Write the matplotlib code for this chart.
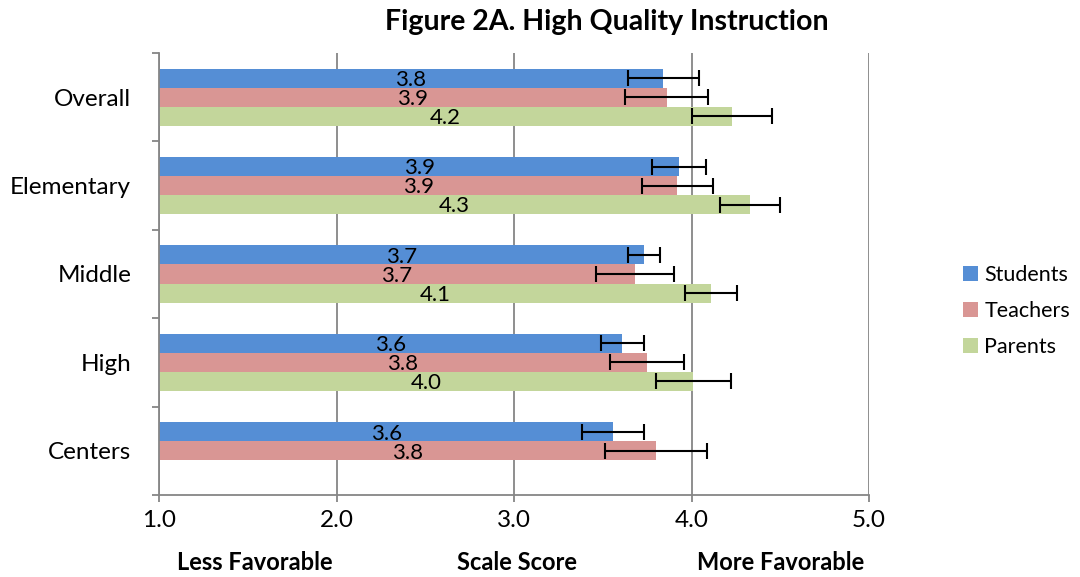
import numpy as np
import matplotlib.pyplot as plt

categories = ["Overall", "Elementary", "Middle", "High", "Centers"]
series = ["Students", "Teachers", "Parents"]
students = [3.84, 3.93, 3.73, 3.61, 3.56]
teachers = [3.86, 3.92, 3.68, 3.75, 3.80]
parents = [4.23, 4.33, 4.11, 4.01, np.nan]
students_err = [0.20, 0.15, 0.09, 0.12, 0.175]
teachers_err = [0.235, 0.20, 0.22, 0.21, 0.285]
parents_err = [0.225, 0.17, 0.145, 0.21, np.nan]
xticks = [1.0, 2.0, 3.0, 4.0, 5.0]

colors = ["#558ED5", "#D99694", "#C3D69B"]
grid_col = "#868686"

plt.rcParams['font.family'] = ['Lato', 'DejaVu Sans']

fig = plt.figure(figsize=(10.8, 5.77), dpi=100)
ax = fig.add_axes([159 / 1080, 82 / 577, 710 / 1080, 442 / 577])

y = np.arange(len(categories))
h = 0.215
vals = [students, teachers, parents]
errs = [students_err, teachers_err, parents_err]
for i, (name, v, e, c) in enumerate(zip(series, vals, errs, colors)):
    pos = y + (i - 1) * h
    v = np.array(v, dtype=float)
    mask = ~np.isnan(v)
    ax.barh(pos[mask], v[mask] - 1.0, left=1.0, height=h, color=c, label=name, zorder=2)
    ax.errorbar(v[mask], pos[mask], xerr=np.array(e)[mask], fmt='none', ecolor='black',
                elinewidth=1.5, capsize=6, capthick=1.5, zorder=3)
    # value labels sit in the middle of each bar
    for p, val in zip(pos[mask], v[mask]):
        ax.text((1.0 + val) / 2, p + 0.02, f"{val:.1f}", ha='center', va='center',
                fontsize=16, color='black', zorder=4)

ax.set_xlim(1.0, 5.0)
ax.set_ylim(4.5, -0.5)
ax.set_xticks(xticks)
ax.set_xticklabels([f"{t:.1f}" for t in xticks], fontsize=17.5)
ax.set_yticks(y)
ax.set_yticklabels(categories, fontsize=17.5)
ax.set_yticks(np.arange(-0.5, 5.0, 1.0), minor=True)
ax.tick_params(axis='y', which='major', length=0, pad=20)
ax.tick_params(axis='y', which='minor', length=5, color=grid_col, width=1.3)
ax.tick_params(axis='x', length=5, color=grid_col, width=1.3, pad=6)

ax.xaxis.grid(True, color=grid_col, linewidth=1.3, zorder=0)
ax.set_axisbelow(True)
for s in ['top', 'right']:
    ax.spines[s].set_visible(False)
for s in ['left', 'bottom']:
    ax.spines[s].set_color(grid_col)
    ax.spines[s].set_linewidth(1.3)

fig.text(607 / 1080, 1 - 22 / 577, "Figure 2A. High Quality Instruction", ha='center', va='center',
         fontsize=20.5, fontweight='bold')
for xp, txt in [(255, "Less Favorable"), (517, "Scale Score"), (781, "More Favorable")]:
    fig.text(xp / 1080, 1 - 563 / 577, txt, ha='center', va='center', fontsize=17, fontweight='bold')

leg = fig.legend(loc='center left', bbox_to_anchor=(950 / 1080, 1 - 311 / 577), frameon=False,
                 fontsize=15.5, handlelength=0.7, handleheight=0.7, handletextpad=0.3,
                 labelspacing=0.75, borderaxespad=0.2)

fig.savefig("out.png", dpi=100)
